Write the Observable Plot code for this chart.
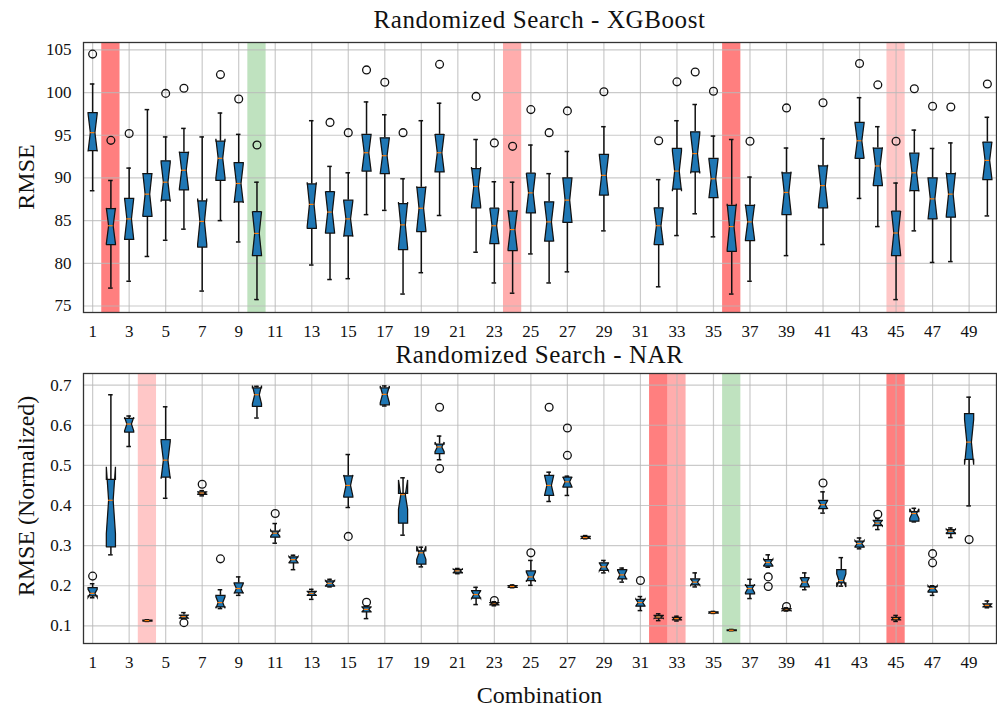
<!DOCTYPE html>
<html>
<head>
<meta charset="utf-8">
<script src="https://cdn.jsdelivr.net/npm/d3@7"></script>
<script src="https://cdn.jsdelivr.net/npm/@observablehq/plot@0.6"></script>
<style>
  body { margin: 0; background: #fff; }
  #chart { position: relative; width: 997px; height: 708px; font-family: "Liberation Serif", serif; color: #111; overflow: hidden; }
  #chart svg { position: absolute; left: 0; font-family: "Liberation Serif", serif !important; }
  #chart svg text { font-family: "Liberation Serif", serif !important; }
  .title { position: absolute; left: 83px; width: 913px; text-align: center; font-size: 25px; letter-spacing: 0.6px; line-height: 25px; white-space: nowrap; }
  .xlabel { position: absolute; left: 83px; width: 913px; text-align: center; font-size: 24px; line-height: 24px; }
  .ylabel { position: absolute; font-size: 24px; line-height: 24px; white-space: nowrap; transform: translate(-50%, -50%) rotate(-90deg); }
</style>
</head>
<body>
<div id="chart">
  <div class="title" style="top:7px">Randomized Search - XGBoost</div>
  <div class="title" style="top:342px">Randomized Search - NAR</div>
  <div class="ylabel" style="left:26px; top:177px">RMSE</div>
  <div class="ylabel" style="left:26px; top:496px">RMSE (Normalized)</div>
  <div class="xlabel" style="top:683px">Combination</div>
</div>
<script>
// ---- Randomized Search - XGBoost: five-number summaries per combination ----
const xgbCombo = [1, 2, 3, 4, 5, 6, 7, 8, 9, 10, 13, 14, 15, 16, 17, 18, 19, 20, 22, 23, 24, 25, 26, 27, 29, 32, 33, 34, 35, 36, 37, 39, 41, 43, 44, 45, 46, 47, 48, 50];
const xgbLow  = [88.5, 77.1, 77.9, 80.8, 82.7, 84.0, 76.75, 85.0, 82.5, 75.75, 79.8, 78.1, 78.2, 85.7, 86.2, 76.4, 78.9, 85.6, 81.3, 77.7, 76.5, 81.1, 77.7, 79.0, 83.8, 77.25, 83.25, 85.8, 83.1, 76.4, 77.9, 80.9, 82.2, 87.6, 84.3, 75.75, 83.8, 80.1, 80.2, 85.55];
const xgbQ1   = [93.2, 82.2, 82.8, 85.5, 87.4, 88.6, 81.9, 89.7, 87.2, 80.9, 84.1, 83.55, 83.2, 90.8, 90.5, 81.6, 83.7, 90.7, 86.5, 82.3, 81.5, 85.9, 82.6, 84.8, 88.0, 82.2, 88.7, 90.7, 87.7, 81.4, 82.65, 85.7, 86.5, 92.3, 89.1, 80.9, 88.5, 85.2, 85.4, 89.8];
const xgbMed  = [95.3, 84.4, 85.2, 88.1, 89.5, 90.9, 84.9, 92.3, 89.35, 83.5, 86.9, 86.0, 85.2, 92.95, 92.6, 84.5, 86.45, 92.95, 89.0, 84.4, 83.95, 88.25, 84.85, 87.4, 90.3, 84.4, 90.8, 92.85, 89.9, 84.3, 84.85, 88.3, 89.1, 94.35, 91.4, 83.55, 90.6, 87.55, 88.1, 92.05];
const xgbQ3   = [97.65, 86.4, 87.6, 90.5, 92.0, 93.0, 87.3, 94.3, 91.8, 86.05, 89.3, 88.4, 87.4, 95.1, 94.7, 87.0, 88.9, 95.1, 91.1, 86.45, 86.1, 90.55, 87.2, 90.0, 92.75, 86.5, 93.45, 95.4, 92.3, 86.8, 86.8, 90.6, 91.4, 96.5, 93.5, 86.1, 92.9, 90.0, 90.5, 94.2];
const xgbHigh = [101.0, 89.7, 91.15, 98.0, 94.8, 95.8, 94.8, 97.6, 95.1, 89.5, 96.7, 91.35, 90.6, 98.9, 97.4, 89.9, 96.7, 98.75, 94.5, 89.55, 89.5, 93.85, 90.5, 93.1, 96.0, 89.8, 96.7, 98.6, 94.9, 94.5, 90.1, 93.5, 94.6, 99.4, 96.0, 89.4, 95.6, 93.45, 94.1, 97.1];
const xgbOutlierCombo = [1, 2, 3, 5, 6, 8, 9, 10, 14, 15, 16, 17, 18, 20, 22, 23, 24, 25, 26, 27, 29, 32, 33, 34, 35, 37, 39, 41, 43, 44, 45, 46, 47, 48, 50];
const xgbOutlierValue = [104.5, 94.4, 95.2, 99.9, 100.5, 102.1, 99.25, 93.85, 96.5, 95.3, 102.65, 101.2, 95.3, 103.3, 99.55, 94.1, 93.7, 98.0, 95.3, 97.85, 100.1, 94.35, 101.25, 102.4, 100.15, 94.3, 98.2, 98.8, 103.4, 100.9, 94.3, 100.45, 98.4, 98.3, 101.0];
const xgbBandCombo = [2, 10, 24, 36, 45];
const xgbBandKind  = ["worst", "best", "poor", "worst", "weak"];

// ---- Randomized Search - NAR: five-number summaries per combination ----
const narCombo = d3.range(1, 51);
const narLow  = [0.170, 0.277, 0.547, 0.111, 0.418, 0.118, 0.424, 0.143, 0.176, 0.618, 0.306, 0.240, 0.166, 0.197, 0.395, 0.118, 0.648, 0.326, 0.247, 0.514, 0.230, 0.153, 0.150, 0.195, 0.201, 0.410, 0.425, 0.317, 0.232, 0.209, 0.138, 0.113, 0.112, 0.197, 0.131, 0.088, 0.168, 0.246, 0.137, 0.190, 0.381, 0.199, 0.292, 0.340, 0.111, 0.359, 0.176, 0.320, 0.399, 0.145];
const narQ1   = [0.175, 0.297, 0.583, 0.112, 0.471, 0.119, 0.428, 0.147, 0.182, 0.647, 0.321, 0.257, 0.176, 0.199, 0.421, 0.135, 0.651, 0.356, 0.254, 0.529, 0.232, 0.169, 0.152, 0.196, 0.213, 0.425, 0.446, 0.318, 0.238, 0.217, 0.149, 0.119, 0.115, 0.202, 0.132, 0.088, 0.180, 0.249, 0.138, 0.197, 0.392, 0.207, 0.296, 0.350, 0.115, 0.361, 0.184, 0.330, 0.515, 0.147];
const narMed  = [0.181, 0.413, 0.603, 0.113, 0.513, 0.123, 0.431, 0.158, 0.193, 0.676, 0.331, 0.265, 0.181, 0.206, 0.450, 0.141, 0.677, 0.427, 0.282, 0.546, 0.237, 0.178, 0.155, 0.198, 0.222, 0.450, 0.459, 0.320, 0.247, 0.227, 0.158, 0.122, 0.118, 0.209, 0.133, 0.089, 0.193, 0.258, 0.140, 0.209, 0.402, 0.213, 0.305, 0.356, 0.118, 0.380, 0.193, 0.336, 0.558, 0.151];
const narQ3   = [0.195, 0.465, 0.617, 0.114, 0.564, 0.127, 0.434, 0.176, 0.207, 0.693, 0.336, 0.272, 0.186, 0.212, 0.474, 0.147, 0.693, 0.430, 0.287, 0.553, 0.241, 0.188, 0.158, 0.200, 0.237, 0.475, 0.471, 0.323, 0.257, 0.240, 0.166, 0.126, 0.121, 0.217, 0.135, 0.090, 0.201, 0.265, 0.143, 0.220, 0.413, 0.240, 0.311, 0.363, 0.121, 0.385, 0.198, 0.340, 0.629, 0.155];
const narHigh = [0.205, 0.676, 0.623, 0.115, 0.646, 0.133, 0.437, 0.190, 0.222, 0.697, 0.355, 0.276, 0.191, 0.216, 0.527, 0.149, 0.698, 0.469, 0.296, 0.573, 0.243, 0.196, 0.160, 0.202, 0.263, 0.483, 0.473, 0.325, 0.263, 0.244, 0.173, 0.130, 0.124, 0.232, 0.136, 0.091, 0.216, 0.277, 0.145, 0.232, 0.434, 0.270, 0.319, 0.367, 0.126, 0.393, 0.200, 0.344, 0.670, 0.162];
const narOutlierCombo = [1, 6, 7, 8, 11, 15, 16, 20, 20, 23, 25, 26, 27, 27, 31, 38, 38, 39, 41, 44, 47, 47, 49];
const narOutlierValue = [0.224, 0.108, 0.453, 0.267, 0.380, 0.323, 0.159, 0.645, 0.492, 0.163, 0.282, 0.645, 0.593, 0.525, 0.213, 0.222, 0.198, 0.148, 0.456, 0.378, 0.280, 0.257, 0.315];
const narBandCombo = [4, 32, 33, 36, 45];
const narBandKind  = ["weak", "worst", "poor", "best", "worst"];

// Runs per combination (used for the notch confidence interval, as in matplotlib)
const runsPerCombination = 10;

// Shared axis ticks
const combinationTicks = [1, 3, 5, 7, 9, 11, 13, 15, 17, 19, 21, 23, 25, 27, 29, 31, 33, 35, 37, 39, 41, 43, 45, 47, 49];
const xgbTicks = [75, 80, 85, 90, 95, 100, 105];
const narTicks = [0.1, 0.2, 0.3, 0.4, 0.5, 0.6, 0.7];

// ---- styling ----
const serif = "Liberation Serif";
const bandFill = {worst: "rgba(255,0,0,0.5)", poor: "rgba(255,0,0,0.32)", weak: "rgba(255,0,0,0.22)", best: "rgba(44,160,44,0.3)"};
const boxBlue = "#1f77b4";
const medianOrange = "#ff7f0e";
const boxHalf = 0.25;   // half of the box width (combination units)
const capHalf = 0.125;  // half of the cap / notch waist width

function summaries(combo, low, q1, med, q3, high) {
  return combo.map((c, i) => {
    const ci = 1.57 * (q3[i] - q1[i]) / Math.sqrt(runsPerCombination);
    return {c, lo: low[i], q1: q1[i], med: med[i], q3: q3[i], hi: high[i], cilo: med[i] - ci, cihi: med[i] + ci};
  });
}

// Notched outline traced like matplotlib's bxp (can overshoot the box when the notch is wider than the IQR)
function notchOutline(stats) {
  return stats.flatMap(s => [
    [-boxHalf, s.q1], [boxHalf, s.q1], [boxHalf, s.cilo], [capHalf, s.med], [boxHalf, s.cihi],
    [boxHalf, s.q3], [-boxHalf, s.q3], [-boxHalf, s.cihi], [-capHalf, s.med], [-boxHalf, s.cilo], [-boxHalf, s.q1]
  ].map(([dx, y]) => ({c: s.c, x: s.c + dx, y})));
}

function boxPanel({stats, outliers, bands, yDomain, yTicks, yFormat, top, height, marginTop, marginBottom}) {
  const svg = Plot.plot({
    width: 997,
    height,
    marginLeft: 83,
    marginRight: 1,
    marginTop,
    marginBottom,
    style: {fontFamily: serif, fontSize: "17px", color: "#111", background: "transparent", overflow: "visible"},
    x: {domain: [0.5, 50.5]},
    y: {domain: yDomain},
    color: {type: "identity"},
    marks: [
      Plot.rect(bands, {x1: d => d.c - 0.5, x2: d => d.c + 0.5, fill: d => bandFill[d.kind]}),
      Plot.ruleX(combinationTicks, {stroke: "#b8b8b8", strokeOpacity: 0.75, strokeWidth: 1.2}),
      Plot.ruleY(yTicks, {stroke: "#b8b8b8", strokeOpacity: 0.75, strokeWidth: 1.2}),
      Plot.axisX(combinationTicks, {tickSize: 0, tickPadding: 12, label: null, tickFormat: d3.format("d"), fontSize: 17, fontFamily: serif, fill: "#111"}),
      Plot.axisY(yTicks, {tickSize: 0, tickPadding: 12, label: null, tickFormat: yFormat, fontSize: 17, fontFamily: serif, fill: "#111"}),
      Plot.ruleX(stats, {x: "c", y1: "q1", y2: "lo", stroke: "#111", strokeWidth: 1.5}),
      Plot.ruleX(stats, {x: "c", y1: "q3", y2: "hi", stroke: "#111", strokeWidth: 1.5}),
      Plot.ruleY(stats, {y: "lo", x1: d => d.c - capHalf, x2: d => d.c + capHalf, stroke: "#111", strokeWidth: 1.5}),
      Plot.ruleY(stats, {y: "hi", x1: d => d.c - capHalf, x2: d => d.c + capHalf, stroke: "#111", strokeWidth: 1.5}),
      Plot.line(notchOutline(stats), {x: "x", y: "y", z: "c", fill: boxBlue, stroke: "#111", strokeWidth: 1.25, strokeLinejoin: "miter", strokeMiterlimit: 4, curve: "linear"}),
      Plot.ruleY(stats, {y: "med", x1: d => d.c - capHalf, x2: d => d.c + capHalf, stroke: medianOrange, strokeWidth: 1.2}),
      Plot.dot(outliers, {x: "c", y: "v", r: 3.9, stroke: "#111", fill: "none", strokeWidth: 1.3}),
      Plot.frame({stroke: "#333", strokeWidth: 1.3})
    ]
  });
  svg.style.top = top + "px";
  document.getElementById("chart").appendChild(svg);
}

boxPanel({
  stats: summaries(xgbCombo, xgbLow, xgbQ1, xgbMed, xgbQ3, xgbHigh),
  outliers: xgbOutlierCombo.map((c, i) => ({c, v: xgbOutlierValue[i]})),
  bands: xgbBandCombo.map((c, i) => ({c, kind: xgbBandKind[i]})),
  yDomain: [74.24, 105.86],
  yTicks: xgbTicks,
  yFormat: d3.format("d"),
  top: 0, height: 340, marginTop: 42, marginBottom: 28
});

boxPanel({
  stats: summaries(narCombo, narLow, narQ1, narMed, narQ3, narHigh),
  outliers: narOutlierCombo.map((c, i) => ({c, v: narOutlierValue[i]})),
  bands: narBandCombo.map((c, i) => ({c, kind: narBandKind[i]})),
  yDomain: [0.056, 0.729],
  yTicks: narTicks,
  yFormat: d3.format(".1f"),
  top: 340, height: 368, marginTop: 33, marginBottom: 65
});
</script>
</body>
</html>
